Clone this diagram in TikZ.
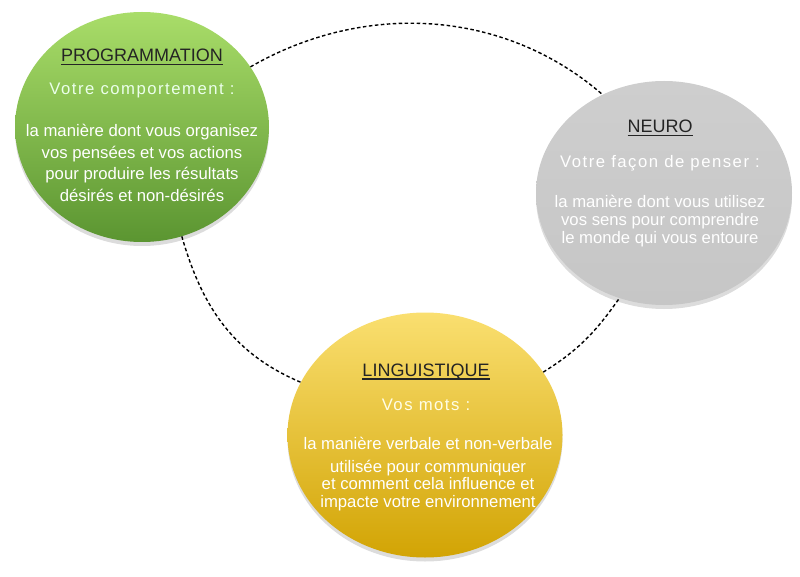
\documentclass[tikz,border=0pt]{standalone}
\usepackage{fontspec}
\setmainfont{Liberation Sans}
\newfontfamily\espace[LetterSpace=9]{Liberation Sans}
\usetikzlibrary{shapes.geometric, shadows}
\definecolor{vertclair}{HTML}{A9DD69}
\definecolor{vertfonce}{HTML}{5B9531}
\definecolor{jauneclair}{HTML}{FADF70}
\definecolor{jaunefonce}{HTML}{D2A404}
\definecolor{grisclair}{HTML}{CECECE}
\definecolor{grisfonce}{HTML}{C6C6C6}
\definecolor{titrecol}{HTML}{242424}
\newcommand\souligne[1]{\setbox0\hbox{#1}\rlap{\rule[-3pt]{\wd0}{1.2pt}}\box0}

\begin{document}
\begin{tikzpicture}[x=1pt, y=-1pt,
    bulle/.style={ellipse, inner sep=0pt, drop shadow={opacity=0.28, shadow xshift=0pt, shadow yshift=-4pt}},
    titre/.style={text=titrecol, font=\fontsize{18}{20}\selectfont},
    sous/.style={font=\espace\fontsize{16.7}{20}\selectfont},
    corps/.style={text=white, align=center, font=\fontsize{16.7}{21.6}\selectfont},
    liaison/.style={line width=1.4pt, dash pattern=on 3.5pt off 2.5pt}]
  \useasboundingbox (0,0) rectangle (800,577);
  % les trois bulles
  \node[bulle, minimum width=254, minimum height=230, top color=vertclair, bottom color=vertfonce] (prog) at (142,127) {};
  \node[bulle, minimum width=256, minimum height=224, top color=grisclair, bottom color=grisfonce] (neuro) at (664,193) {};
  \node[bulle, minimum width=275, minimum height=245, top color=jauneclair, bottom color=jaunefonce] (ling) at (425,435) {};
  % le grand cercle en pointillés
  \draw[liaison] (prog.29) to[out=30, in=139, looseness=0.95] (neuro.122);
  \draw[liaison] (prog.-70) to[out=-74, in=157] (ling.157);
  \draw[liaison] (ling.28) to[out=32, in=-125] (neuro.-113);
  % textes
  \node[titre] (prog-titre) at (142,57) {\souligne{PROGRAMMATION}};
  \node[sous, text=green!8!white] (prog-sous) at (142,90) {Votre comportement :};
  \node[corps] (prog-corps) at (142,163) {la manière dont vous organisez\\vos pensées et vos actions\\pour produire les résultats\\désirés et non-désirés};
  \node[titre] (neuro-titre) at (660,128) {\souligne{NEURO}};
  \node[sous, text=white] (neuro-sous) at (660,163) {Votre façon de penser :};
  \node[corps, font=\fontsize{16.7}{18}\selectfont] (neuro-corps) at (660,221) {la manière dont vous utilisez\\vos sens pour comprendre\\le monde qui vous entoure};
  \node[titre] (ling-titre) at (426,372) {\souligne{LINGUISTIQUE}};
  \node[sous, text=yellow!10!white] (ling-sous) at (426,405) {Vos mots :};
  \node[corps, font=\fontsize{16.7}{17.5}\selectfont] (ling-corps) at (428,474) {la manière verbale et non-verbale\\[5pt]utilisée pour communiquer\\et comment cela influence et\\impacte votre environnement};
\end{tikzpicture}
\end{document}
